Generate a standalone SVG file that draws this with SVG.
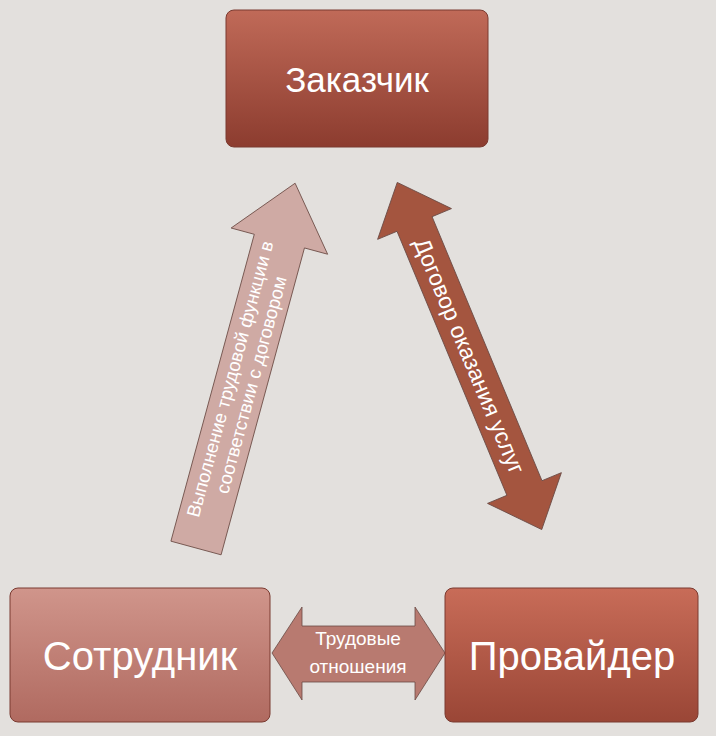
<svg xmlns="http://www.w3.org/2000/svg" width="716" height="736" viewBox="0 0 716 736">
<style>
text{font-family:"Liberation Sans",Arial,sans-serif;fill:#fff;text-anchor:middle}
.box{stroke:#7a3a30;stroke-width:1}
.arr{stroke:#6a4a44;stroke-width:0.8}
</style>
<defs>
<linearGradient id="gTop" x1="0" y1="0" x2="0" y2="1"><stop offset="0" stop-color="#c06a58"/><stop offset="1" stop-color="#8c3c2f"/></linearGradient>
<linearGradient id="gL" x1="0" y1="0" x2="0" y2="1"><stop offset="0" stop-color="#d0958b"/><stop offset="1" stop-color="#b06a60"/></linearGradient>
<linearGradient id="gR" x1="0" y1="0" x2="0" y2="1"><stop offset="0" stop-color="#c86c58"/><stop offset="1" stop-color="#9a4636"/></linearGradient>
</defs>
<rect width="716" height="736" fill="#e3e0dd"/>
<g id="connectors">
<g id="arrow-left" transform="translate(196,548) rotate(15.2)">
<polygon class="arr" fill="#cfaaa4" points="-26,0 26,0 26,-318 50,-318 0,-378 -50,-318 -26,-318"/>
<text transform="rotate(-90)" x="172" y="-5" font-size="18.5">Выполнение трудовой функции в</text>
<text transform="rotate(-90)" x="172" y="17" font-size="18.5">соответствии с договором</text>
</g>
<g id="arrow-right" transform="translate(469.5,356) rotate(-22.6)">
<polygon class="arr" fill="#a4553f" points="0,-188 40,-143 19,-143 19,143 40,143 0,188 -40,143 -19,143 -19,-143 -40,-143"/>
<text transform="rotate(90)" x="0" y="8" font-size="23">Договор оказания услуг</text>
</g>
<g id="arrow-h">
<polygon class="arr" fill="#b87a70" points="272,653 302,607 302,626 415,626 415,607 445,653 415,700 415,682 302,682 302,700"/>
<text x="358" y="645" font-size="19">Трудовые</text>
<text x="358" y="673" font-size="19">отношения</text>
</g>
</g>
<g id="node-zakazchik">
<rect class="box" x="226" y="10" width="262" height="137" rx="8" fill="url(#gTop)"/>
<text x="357" y="92" font-size="35">Заказчик</text>
</g>
<g id="node-sotrudnik">
<rect class="box" x="10" y="588" width="260" height="134" rx="8" fill="url(#gL)"/>
<text x="140" y="670" font-size="40">Сотрудник</text>
</g>
<g id="node-provaider">
<rect class="box" x="445" y="588" width="253" height="134" rx="8" fill="url(#gR)"/>
<text x="572" y="670" font-size="40">Провайдер</text>
</g>
</svg>
